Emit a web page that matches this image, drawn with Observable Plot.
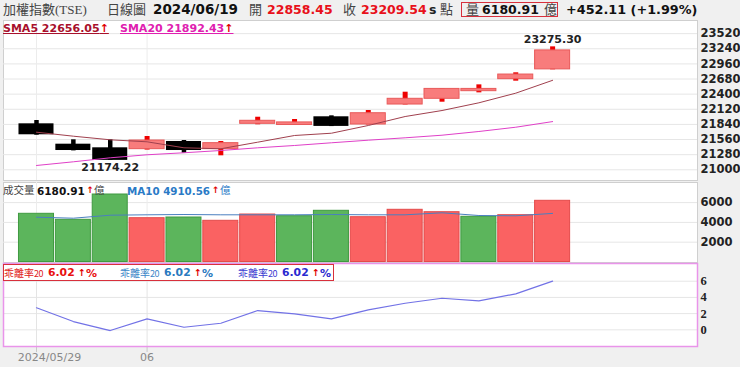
<!DOCTYPE html>
<html><head><meta charset="utf-8">
<script src="https://cdn.jsdelivr.net/npm/d3@7"></script>
<script src="https://cdn.jsdelivr.net/npm/@observablehq/plot@0.6"></script>
<style>
html,body{margin:0;padding:0;background:#f0f0f0;}
#root{position:relative;width:740px;height:367px;overflow:hidden;background:#f0f0f0;font-family:"DejaVu Sans",sans-serif;}
.a{position:absolute;white-space:nowrap;line-height:1;}
.panel{position:absolute;left:0;}
.serif{font-family:"Liberation Serif","Noto Sans CJK TC",serif;color:#444;}
.cjk{font-family:"Noto Sans CJK TC",sans-serif;}
.b{font-weight:bold;}
.red{color:#e8101a;}
.arr{color:#e00000;font-weight:bold;}
svg{overflow:visible;}
</style></head><body><div id="root"></div>
<script>
// ---- data ----
const dates = ["2024/05/29","2024/05/30","2024/05/31","2024/06/03","2024/06/04","2024/06/05","2024/06/06","2024/06/07","2024/06/11","2024/06/12","2024/06/13","2024/06/14","2024/06/17","2024/06/18","2024/06/19"];
const open  = [21851,21474,21407,21382,21524,21382,21851,21829,21981,21838,22208,22314,22455,22677,22858.45];
const close = [21648,21357,21174.22,21542,21357,21493,21907,21877,21803,22047,22314,22497,22497,22763,23209.54];
const high  = [21912,21555,21555,21616,21542,21524,21973,21931,21999,22097,22436,22497,22572,22795,23275.30];
const low   = [21640,21350,21174.22,21365,21308,21259,21833,21825,21800,21830,22200,22251,22424,22640,22850];
const sma5  = [21696,21622,21555,21518,21407,21389,21511,21635,21677,21820,21986,22097,22240,22418,22656.05];
const sma20 = [21080,21148,21222,21278,21315,21357,21407,21450,21500,21548,21592,21640,21709,21788,21892.43];
const volume = [4869,4263,6818,4424,4495,4162,4798,4626,5172,4525,5273,5030,4566,4727,6180.91];
const volUp  = [false,false,false,true,false,true,true,false,false,true,true,true,false,true,true];
const ma10   = [4525,4424,4727,4768,4798,4768,4768,4768,4798,4768,4768,4970,4697,4667,4910.56];
const bias   = [2.72,1.02,-0.09,1.36,0.32,0.81,2.38,1.98,1.36,2.47,3.28,3.90,3.58,4.44,6.02];
const priceTicks = [21000,21280,21560,21840,22120,22400,22680,22960,23240,23520];
const volTicks = [2000,4000,6000];
const biasTicks = [0,2,4,6];
const dateTickIndex = [0,3];
const dateTickLabels = ["2024/05/29","06"];

// ---- layout helpers ----
const root = document.getElementById("root");
const W = 740, ML = 3, MR = 43;
const xDomain = [-0.895, 17.93];
const half = 0.475;
const plain = d => String(d);
const idx = d3.range(dates.length);
const candles = idx.map(i => ({i, o: open[i], c: close[i], h: high[i], l: low[i], up: close[i] >= open[i]}));
const upC = candles.filter(d => d.up), dnC = candles.filter(d => !d.up);

function place(svg, top) {
  const wrap = document.createElement("div");
  wrap.className = "panel";
  wrap.style.top = top + "px";
  wrap.appendChild(svg);
  root.appendChild(wrap);
}
function txt(html, left, top, size, cls, color, extra) {
  const s = document.createElement("div");
  s.className = "a " + (cls || "");
  s.style.left = left + "px";
  s.style.top = top + "px";
  s.style.fontSize = size + "px";
  if (color) s.style.color = color;
  if (extra) Object.assign(s.style, extra);
  s.innerHTML = html;
  root.appendChild(s);
  return s;
}

// ---- main price panel ----
const iMax = d3.maxIndex(high), iMin = d3.minIndex(low);
const main = Plot.plot({
  width: W, height: 160, marginLeft: ML, marginRight: MR, marginTop: 0, marginBottom: 0,
  x: {domain: xDomain, axis: null},
  y: {domain: [20802, 23763], axis: null, label: null},
  style: {background: "transparent", fontFamily: "DejaVu Sans"},
  marks: [
    Plot.frame({fill: "white", stroke: "#cfcfcf"}),
    Plot.ruleY(priceTicks, {stroke: "#e6e6e6"}),
    Plot.ruleX(dateTickIndex, {stroke: "#ececec"}),
    Plot.axisY(priceTicks, {anchor: "right", tickSize: 0, tickPadding: 3, tickFormat: plain, label: null, fontSize: 11.5, fontWeight: "bold", fill: "#222"}),
    Plot.ruleX(dnC, {x: "i", y1: "l", y2: "h", stroke: "#000", strokeWidth: 4.5}),
    Plot.ruleX(upC, {x: "i", y1: "l", y2: "h", stroke: "#ee0000", strokeWidth: 5}),
    Plot.rect(dnC, {x1: d => d.i - half, x2: d => d.i + half, y1: "o", y2: "c", fill: "#000"}),
    Plot.rect(upC, {x1: d => d.i - half, x2: d => d.i + half, y1: "o", y2: "c", fill: "#f87c7c", stroke: "#e85a5a", strokeWidth: 1}),
    Plot.line(idx, {x: i => i, y: i => sma20[i], stroke: "#e040c8", strokeWidth: 1}),
    Plot.line(idx, {x: i => i, y: i => sma5[i], stroke: "#a0404e", strokeWidth: 1}),
    Plot.text([iMax], {x: i => i, y: i => high[i], text: i => high[i].toFixed(2), dy: -7, fontSize: 11, fontWeight: "bold", fill: "#222"}),
    Plot.text([iMin], {x: i => i, y: i => low[i], text: i => low[i].toFixed(2), dy: 7, fontSize: 11, fontWeight: "bold", fill: "#222"})
  ]
});
place(main, 20);

// ---- volume panel ----
const vols = idx.map(i => ({i, v: volume[i], up: volUp[i]}));
const volPlot = Plot.plot({
  width: W, height: 80, marginLeft: ML, marginRight: MR, marginTop: 0, marginBottom: 0,
  x: {domain: xDomain, axis: null},
  y: {domain: [-50, 8030], axis: null, label: null},
  style: {background: "transparent", fontFamily: "DejaVu Sans"},
  marks: [
    Plot.frame({fill: "white", stroke: "#cfcfcf"}),
    Plot.ruleY(volTicks, {stroke: "#e6e6e6"}),
    Plot.ruleX(dateTickIndex, {stroke: "#ececec"}),
    Plot.axisY(volTicks, {anchor: "right", tickSize: 0, tickPadding: 3, tickFormat: plain, label: null, fontSize: 11.5, fontWeight: "bold", fill: "#222"}),
    Plot.rect(vols.filter(d => !d.up), {x1: d => d.i - half, x2: d => d.i + half, y1: 0, y2: "v", fill: "#5cb55c", stroke: "#3f9a40", strokeWidth: 1}),
    Plot.rect(vols.filter(d => d.up), {x1: d => d.i - half, x2: d => d.i + half, y1: 0, y2: "v", fill: "#fa6262", stroke: "#e44a4a", strokeWidth: 1}),
    Plot.line(idx, {x: i => i, y: i => ma10[i], stroke: "#4a7fc0", strokeWidth: 1})
  ]
});
place(volPlot, 182);

// ---- bias panel ----
const biasPlot = Plot.plot({
  width: W, height: 104, marginLeft: ML, marginRight: MR, marginTop: 0, marginBottom: 21,
  x: {domain: xDomain, axis: null},
  y: {domain: [-2.06, 8.19], axis: null, label: null},
  style: {background: "transparent", fontFamily: "DejaVu Sans"},
  marks: [
    Plot.frame({fill: "white"}),
    Plot.ruleY(biasTicks, {stroke: "#e6e6e6"}),
    Plot.ruleX(dateTickIndex, {stroke: "#e4e4e4"}),
    Plot.axisY(biasTicks, {anchor: "right", tickSize: 0, tickPadding: 3, tickFormat: plain, label: null, fontSize: 12.5, fontWeight: "bold", fontFamily: "Liberation Serif", fill: "#222"}),
    Plot.axisX(dateTickIndex, {anchor: "bottom", tickSize: 6, tickFormat: () => "", label: null, stroke: "#c8c8c8"}),
    Plot.text(dateTickIndex.slice(0, 1), {x: i => i, frameAnchor: "bottom", text: () => dateTickLabels[0], dy: 14, dx: 13, fontSize: 11, fill: "#888"}),
    Plot.text(dateTickIndex.slice(1), {x: i => i, frameAnchor: "bottom", text: (i, k) => dateTickLabels[k + 1], dy: 14, fontSize: 11, fill: "#888"}),
    Plot.line(idx, {x: i => i, y: i => bias[i], stroke: "#7272e6", strokeWidth: 1.2}),
    Plot.frame({stroke: "#e994ea", strokeWidth: 1.5})
  ]
});
place(biasPlot, 263);

// ---- header ----
const last = dates.length - 1;
txt("加權指數(TSE)", 3, 3, 13, "serif");
txt("日線圖", 107, 3, 13, "serif");
txt(dates[last], 153, 3, 13.5, "b", "#111");
txt("開", 249, 3, 13, "serif");
txt(open[last].toFixed(2), 267, 3.5, 12.5, "b red");
txt("收", 343, 3, 13, "serif");
txt(close[last].toFixed(2), 361, 3.5, 12.5, "b red");
txt("s", 429, 3.5, 12.5, "b", "#222");
txt("點", 440, 3, 13, "serif");
txt("", 461, 2, 12, "", null, {width: "97px", height: "15px", border: "1.5px solid #d8303c", boxSizing: "border-box"});
txt("量", 466, 3, 13, "serif");
txt(volume[last].toFixed(2), 482, 3.5, 12.5, "b", "#111");
txt("億", 544, 3, 13, "serif");
txt("+452.11 (+1.99%)", 566, 3.5, 12.8, "b", "#111");

// ---- main legend ----
txt("SMA5 " + sma5[last].toFixed(2) + "<span class='arr'>↑</span>", 3, 23, 11, "b", "#a8102c", {textDecoration: "underline"});
txt("SMA20 " + sma20[last].toFixed(2) + "<span class='arr'>↑</span>", 120, 23, 11, "b", "#e020b0", {textDecoration: "underline"});

// ---- volume legend ----
txt("成交量", 3, 185, 10.5, "cjk", "#444");
txt(volume[last].toFixed(2), 37, 185.5, 10.5, "b", "#111");
txt("↑", 86.5, 186, 9, "arr");
txt("億", 94, 185, 10.5, "cjk", "#444");
txt("MA10 " + ma10[last].toFixed(2), 127, 185.5, 10.3, "b", "#2a7ac6");
txt("↑", 212, 186, 9, "arr");
txt("億", 220, 185, 10.5, "cjk", "#2a7ac6");

// ---- bias legend ----
txt("", 3, 264, 11, "", null, {width: "331px", height: "17px", border: "1.5px solid #d8303c", boxSizing: "border-box", background: "white"});
const biasCols = [["#e02020", "#e81010"], ["#3a86c8", "#2a7ac0"], ["#3a3ad0", "#2a2ad0"]];
const bx = [4, 120, 238];
biasCols.forEach((c, k) => {
  txt("乖離率<span style='font-size:9px;letter-spacing:-0.5px'>20</span>", bx[k], 267.5, 10, "cjk", c[0]);
  txt(bias[last].toFixed(2), bx[k] + 44, 267.5, 10.8, "b", c[1]);
  txt("↑", bx[k] + 74, 268, 9.5, "arr");
  txt("%", bx[k] + 82, 267.5, 11, "b", c[1]);
});
</script></body></html>
